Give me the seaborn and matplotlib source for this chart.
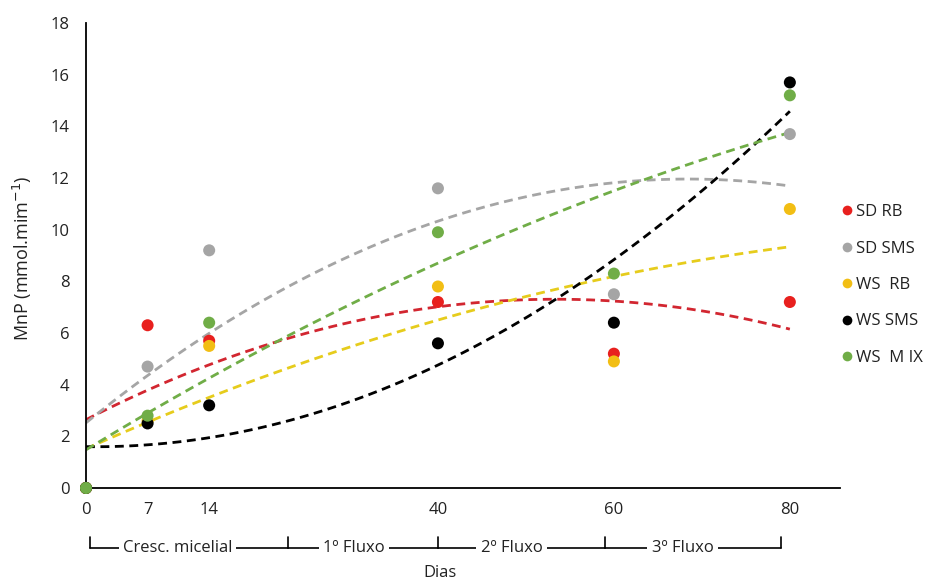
import numpy as np
import pandas as pd
import matplotlib
matplotlib.use("Agg")
import matplotlib.pyplot as plt
import matplotlib.transforms as mtransforms
from matplotlib.lines import Line2D
import seaborn as sns

# ---- data ----
days = [0, 7, 14, 40, 60, 80]
sd_rb = [0, 6.3, 5.7, 7.2, 5.2, 7.2]
sd_sms = [0, 4.7, 9.2, 11.6, 7.5, 13.7]
ws_rb = [0, 2.6, 5.5, 7.8, 4.9, 10.8]
ws_sms = [0, 2.5, 3.2, 5.6, 6.4, 15.7]
ws_mix = [0, 2.8, 6.4, 9.9, 8.3, 15.2]
series_names = ["SD RB", "SD SMS", "WS  RB", "WS SMS", "WS  M IX"]
series_values = [sd_rb, sd_sms, ws_rb, ws_sms, ws_mix]
x_ticks = [0, 7, 14, 40, 60, 80]
y_ticks = [0, 2, 4, 6, 8, 10, 12, 14, 16, 18]
phases = ["Cresc. micelial", "1º Fluxo", "2º Fluxo", "3º Fluxo"]
phase_bounds = [0.5, 23, 40, 59, 79]

point_colors = ["#E8201E", "#A5A5A5", "#F2BE14", "#000000", "#70AD47"]
line_colors = ["#D22630", "#A5A5A5", "#E6CC1C", "#000000", "#70AD47"]

df = pd.DataFrame({
    "Dias": np.tile(days, len(series_names)),
    "MnP": np.concatenate(series_values),
    "serie": np.repeat(series_names, len(days)),
})

sns.set_theme(style="white")
plt.rcParams["font.family"] = ["Open Sans", "DejaVu Sans"]

fig = plt.figure(figsize=(9.38, 5.81), dpi=100)
ax = fig.add_axes([86 / 938, 1 - 488 / 581, (840 - 86) / 938, (488 - 23) / 581])

for name, col in zip(series_names, line_colors):
    sub = df[df["serie"] == name]
    sns.regplot(data=sub, x="Dias", y="MnP", order=2, ci=None, scatter=False,
                ax=ax, line_kws=dict(color=col, lw=2.0, dashes=(3.2, 2.0)))

sns.scatterplot(data=df, x="Dias", y="MnP", hue="serie", palette=point_colors,
                s=75, edgecolor="none", ax=ax, legend=False, clip_on=False, zorder=5)

ax.set_xlim(0, 85.7)
ax.set_ylim(0, 18)
ax.set_xticks(x_ticks)
ax.set_xticklabels([str(t) for t in x_ticks])
ax.set_yticks(y_ticks)
ax.set_yticklabels([str(t) for t in y_ticks])
ax.tick_params(axis="both", length=0, labelsize=12, colors="#222222")
ax.tick_params(axis="x", pad=10)
ax.tick_params(axis="y", pad=12)
for s in ["top", "right"]:
    ax.spines[s].set_visible(False)
for s in ["left", "bottom"]:
    ax.spines[s].set_color("black")
    ax.spines[s].set_linewidth(1.3)
ax.set_xlabel("")
ax.set_ylabel("")

fig.text(22 / 938, 1 - 258 / 581, "MnP (mmol.mim$^{-1}$)", rotation=90,
         ha="center", va="center", fontsize=13, color="#222222")
fig.text(440 / 938, 1 - 573 / 581, "Dias", ha="center", va="center",
         fontsize=12, color="#222222")

# phase brackets below the axis
trans = mtransforms.blended_transform_factory(ax.transData, fig.transFigure)
y_line = 1 - 548 / 581
y_top = 1 - 537 / 581
for b in phase_bounds:
    ax.plot([b, b], [y_line, y_top], transform=trans, color="black", lw=1.2, clip_on=False)
for i, lab in enumerate(phases):
    a, b = phase_bounds[i], phase_bounds[i + 1]
    pos = a + 0.44 * (b - a)
    ax.text(pos, y_line, lab, transform=trans, ha="center", va="center",
            fontsize=12, color="#222222", clip_on=False,
            bbox=dict(facecolor="white", edgecolor="none", pad=3))
    ax.plot([a, b], [y_line, y_line], transform=trans, color="black", lw=1.2,
            clip_on=False, zorder=1)

handles = [Line2D([0], [0], marker="o", color="none", markerfacecolor=c,
                  markeredgecolor="none", markersize=7) for c in point_colors]
fig.legend(handles, series_names, loc="upper left",
           bbox_to_anchor=(834 / 938, 1 - 196 / 581), frameon=False,
           fontsize=12, labelspacing=1.22, handlelength=0.6, handletextpad=0.2,
           borderpad=0, labelcolor="#222222")

fig.savefig("out.png", dpi=100)
